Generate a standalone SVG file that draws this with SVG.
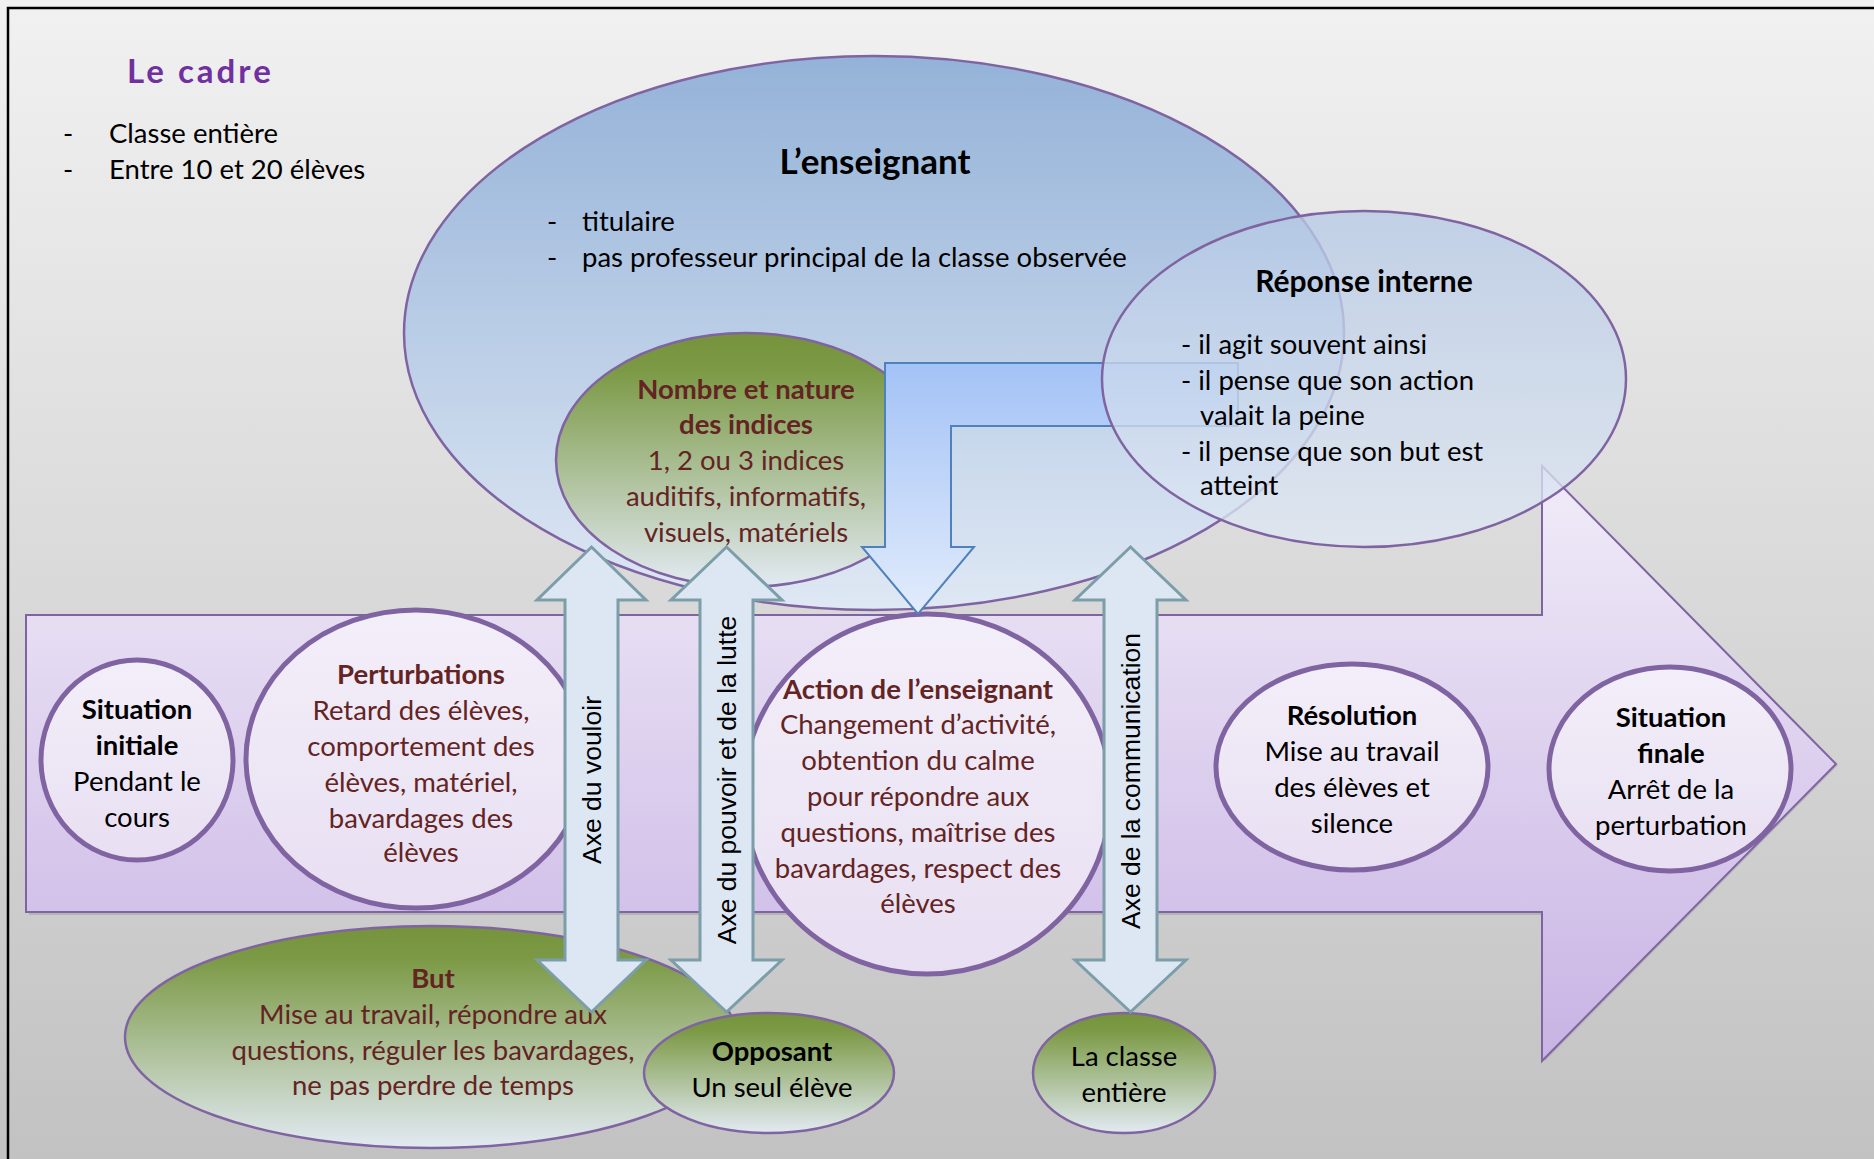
<svg xmlns="http://www.w3.org/2000/svg" width="1874" height="1159" viewBox="0 0 1874 1159">
<defs>
<linearGradient id="gBg" x1="0" y1="0" x2="0" y2="1"><stop offset="0" stop-color="#f1f1f1"/><stop offset="1" stop-color="#c2c2c2"/></linearGradient>
<linearGradient id="gBlue" x1="0" y1="0" x2="0" y2="1"><stop offset="0" stop-color="#94b2d8"/><stop offset="1" stop-color="#dfe8f4"/></linearGradient>
<linearGradient id="gGreen" x1="0" y1="0" x2="0" y2="1"><stop offset="0" stop-color="#76923c"/><stop offset="0.15" stop-color="#7c9a46"/><stop offset="1" stop-color="#e2eaf3"/></linearGradient>
<linearGradient id="gElbow" x1="0" y1="0" x2="0" y2="1"><stop offset="0" stop-color="#a3c2f6"/><stop offset="1" stop-color="#e2ecfc"/></linearGradient>
<linearGradient id="gPurple" x1="0" y1="0" x2="0" y2="1"><stop offset="0" stop-color="#f1ecf8"/><stop offset="1" stop-color="#c8b3e4"/></linearGradient>
<linearGradient id="gLav" x1="0" y1="0" x2="0" y2="1"><stop offset="0" stop-color="#f3eff9"/><stop offset="1" stop-color="#e8dff2"/></linearGradient>
<linearGradient id="gRep" x1="0" y1="0" x2="0" y2="1"><stop offset="0" stop-color="#b6c9e5"/><stop offset="1" stop-color="#dfe8f4"/></linearGradient>
<linearGradient id="gComm" x1="0" y1="0" x2="0" y2="1"><stop offset="0" stop-color="#c3d69b"/><stop offset="0.45" stop-color="#cfdcb4"/><stop offset="1" stop-color="#dde7f2"/></linearGradient>
<style>
text{font-family:Lato,"Liberation Sans",sans-serif;font-size:27.5px;fill:#000}
.c{text-anchor:middle}
.b{font-weight:bold}
.r{fill:#632423}
.ax{font-family:"Liberation Sans",Arial,sans-serif;font-size:26.5px;text-anchor:middle}
.lav{fill:url(#gLav);stroke:#8064a2;stroke-width:5}
.grn{fill:url(#gGreen);stroke:#8064a2;stroke-width:2.5}
.dbl{fill:#dde7f3;stroke:#7b9ea8;stroke-width:3;stroke-linejoin:miter}
</style>
</defs>

<rect x="0" y="0" width="1874" height="1159" fill="url(#gBg)"/>
<rect x="8" y="8" width="1900" height="1200" fill="none" stroke="#000" stroke-width="2.5"/>

<g id="cadre">
<text x="127" y="83" class="b" style="font-size:33px;letter-spacing:3px;fill:#7030a0">Le cadre</text>
<text x="63" y="143">-</text><text x="109" y="143">Classe entière</text>
<text x="63" y="179">-</text><text x="109" y="179">Entre 10 et 20 élèves</text>
</g>

<g id="enseignant">
<ellipse cx="874" cy="333" rx="470" ry="277" fill="url(#gBlue)" stroke="#8064a2" stroke-width="2.5"/>
<text x="875" y="174" class="c b" style="font-size:35px">L’enseignant</text>
<text x="547" y="231">-</text><text x="582" y="231">titulaire</text>
<text x="547" y="267">-</text><text x="582" y="267">pas professeur principal de la classe observée</text>
</g>

<g id="timeline">
<path d="M29 618 H1545 V469 L1838 765 L1545 1061 V915 H29 Z" fill="#9a9a9a" opacity="0.45"/>
<path d="M26 615 H1542 V466 L1836 764 L1542 1061 V912 H26 Z" fill="url(#gPurple)" stroke="#8064a2" stroke-width="2"/>
</g>

<g id="indices">
<ellipse cx="746" cy="460" rx="190" ry="127" class="grn"/>
</g>

<g id="situation-initiale">
<ellipse cx="137" cy="760" rx="96" ry="100" class="lav"/>
<text x="137" y="719" class="c b">Situation</text>
<text x="137" y="755" class="c b">initiale</text>
<text x="137" y="791" class="c">Pendant le</text>
<text x="137" y="827" class="c">cours</text>
</g>

<g id="perturbations">
<ellipse cx="416" cy="759" rx="170" ry="149" class="lav"/>
<text x="421" y="684" class="c b r">Perturbations</text>
<text x="421" y="720" class="c r">Retard des élèves,</text>
<text x="421" y="756" class="c r">comportement des</text>
<text x="421" y="792" class="c r">élèves, matériel,</text>
<text x="421" y="828" class="c r">bavardages des</text>
<text x="421" y="862" class="c r">élèves</text>
</g>

<g id="action">
<ellipse cx="927" cy="794" rx="184" ry="180" class="lav"/>
<text x="918" y="699" class="c b r">Action de l’enseignant</text>
<text x="918" y="734" class="c r">Changement d’activité,</text>
<text x="918" y="770" class="c r">obtention du calme</text>
<text x="918" y="806" class="c r">pour répondre aux</text>
<text x="918" y="842" class="c r">questions, maîtrise des</text>
<text x="918" y="878" class="c r">bavardages, respect des</text>
<text x="918" y="913" class="c r">élèves</text>
</g>

<g id="resolution">
<ellipse cx="1352" cy="767" rx="136" ry="103" class="lav"/>
<text x="1352" y="725" class="c b">Résolution</text>
<text x="1352" y="761" class="c">Mise au travail</text>
<text x="1352" y="797" class="c">des élèves et</text>
<text x="1352" y="833" class="c">silence</text>
</g>

<g id="situation-finale">
<ellipse cx="1670" cy="769" rx="121" ry="102" class="lav"/>
<text x="1671" y="727" class="c b">Situation</text>
<text x="1671" y="763" class="c b">finale</text>
<text x="1671" y="799" class="c">Arrêt de la</text>
<text x="1671" y="835" class="c">perturbation</text>
</g>

<g id="but">
<ellipse cx="431" cy="1037" rx="306" ry="111" class="grn"/>
<text x="433" y="988" class="c b r">But</text>
<text x="433" y="1024" class="c r">Mise au travail, répondre aux</text>
<text x="433" y="1060" class="c r">questions, réguler les bavardages,</text>
<text x="433" y="1095" class="c r">ne pas perdre de temps</text>
</g>

<g id="opposant">
<ellipse cx="769" cy="1073" rx="125" ry="60" class="grn"/>
<text x="772" y="1061" class="c b">Opposant</text>
<text x="772" y="1097" class="c">Un seul élève</text>
</g>

<g id="classe">
<ellipse cx="1124" cy="1073" rx="91" ry="60" class="grn"/>
<text x="1124" y="1066" class="c">La classe</text>
<text x="1124" y="1102" class="c">entière</text>
</g>

<g id="connectors">
<path class="dbl" d="M591.5 547 L646 600 H618 V960 H646 L591.5 1012 L537 960 H565 V600 H537 Z"/>
<path class="dbl" d="M726.5 547 L782 600 H753 V960 H782 L726.5 1012 L671 960 H700 V600 H671 Z"/>
<path class="dbl" d="M1130.5 547 L1186 600 H1157 V960 H1186 L1130.5 1012 L1075 960 H1104 V600 H1075 Z" fill="url(#gComm)"/>
<path d="M1238 363 H885 V547 H862 L918 614 L974 547 H951 V426 H1238 Z" fill="url(#gElbow)" stroke="#4f81bd" stroke-width="2"/>
<text class="ax" transform="translate(591.5 780) rotate(-90)" dy="9">Axe du vouloir</text>
<text class="ax" transform="translate(726.5 780) rotate(-90)" dy="9">Axe du pouvoir et de la lutte</text>
<text class="ax" transform="translate(1130.5 781) rotate(-90)" dy="9">Axe de la communication</text>
</g>

<g id="indices-text">
<text x="746" y="399" class="c b r">Nombre et nature</text>
<text x="746" y="434" class="c b r">des indices</text>
<text x="746" y="470" class="c r">1, 2 ou 3 indices</text>
<text x="746" y="506" class="c r">auditifs, informatifs,</text>
<text x="746" y="542" class="c r">visuels, matériels</text>
</g>

<g id="reponse-interne">
<ellipse cx="1364" cy="379" rx="262" ry="168" fill="url(#gRep)" fill-opacity="0.78" stroke="#8064a2" stroke-width="2.5"/>
<text x="1364" y="292" class="c b" style="font-size:30px">Réponse interne</text>
<text x="1181" y="354">- il agit souvent ainsi</text>
<text x="1181" y="390">- il pense que son action</text>
<text x="1200" y="425">valait la peine</text>
<text x="1181" y="461">- il pense que son but est</text>
<text x="1200" y="495">atteint</text>
</g>
</svg>
